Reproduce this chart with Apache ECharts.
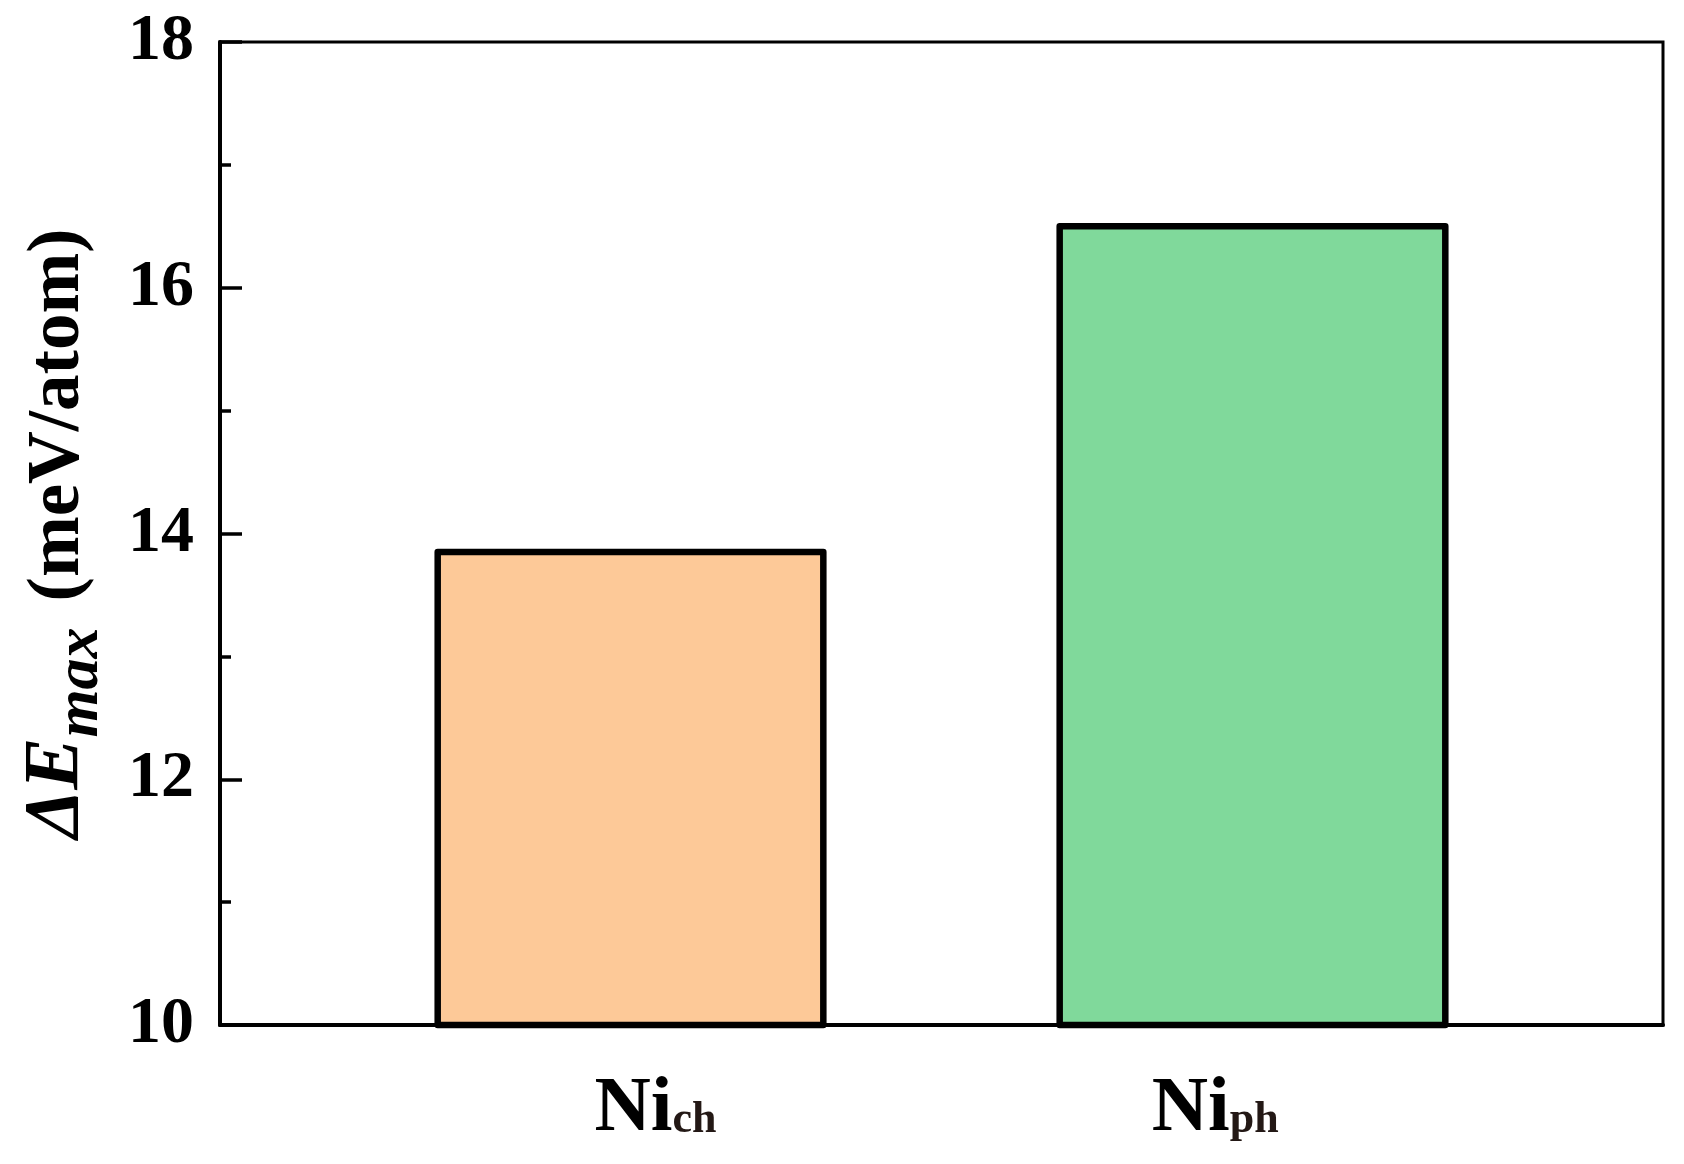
<!DOCTYPE html>
<html>
<head>
<meta charset="utf-8">
<title>ΔEmax bar chart</title>
<script src="https://cdn.jsdelivr.net/npm/echarts@6/dist/echarts.min.js"></script>
<style>
  html, body { margin: 0; padding: 0; background: #fff; }
  #main { width: 1684px; height: 1164px; }
</style>
</head>
<body>
<div id="main"></div>
<script>
// data
var categories = ['ch', 'ph'];          // subscripts of Ni
var positions = [1, 2];                 // bar centres on the x scale
var labelPositions = [1.04, 1.94];      // where the category labels sit
var values = [13.85, 16.5];             // ΔEmax, meV/atom
var yTicks = [10, 12, 14, 16, 18];

var barColors = ['#FDC998', '#80D99B'];
var fontFamily = '"Liberation Serif", "Times New Roman", serif';

var chartDom = document.getElementById('main');
var myChart = echarts.init(chartDom);
var option;

var seriesData = positions.map(function (p, i) {
  return [p, values[i]];
});

option = {
  backgroundColor: '#fff',
  animation: false,
  grid: {
    left: 220,
    right: 21,
    top: 42,
    bottom: 139,
    show: true,
    borderColor: '#000',
    borderWidth: 3
  },
  xAxis: {
    type: 'value',
    min: 0.34,
    max: 2.66,
    axisLine: { show: true, onZero: false, lineStyle: { color: '#000', width: 4 } },
    axisTick: { show: false },
    splitLine: { show: false },
    axisLabel: {
      customValues: labelPositions,
      margin: 46,
      formatter: function (v) {
        var i = labelPositions.indexOf(v);
        if (i < 0) return '';
        return '{n|Ni}{s|' + categories[i] + '}';
      },
      rich: {
        n: {
          fontFamily: fontFamily, fontWeight: 'bold', fontSize: 78,
          color: '#000', verticalAlign: 'bottom', lineHeight: 78
        },
        s: {
          fontFamily: fontFamily, fontWeight: 'bold', fontSize: 44,
          color: '#231815', verticalAlign: 'bottom', lineHeight: 44,
          padding: [0, 0, 6, 0]
        }
      }
    }
  },
  yAxis: {
    type: 'value',
    min: yTicks[0],
    max: yTicks[yTicks.length - 1],
    interval: 2,
    name: '{d|ΔE}{m|max}{u|(meV/atom)}',
    nameLocation: 'middle',
    nameGap: 124,
    nameTextStyle: {
      rich: {
        d: {
          fontFamily: fontFamily, fontWeight: 'bold', fontStyle: 'italic',
          fontSize: 78, color: '#000', verticalAlign: 'bottom', lineHeight: 78
        },
        m: {
          fontFamily: fontFamily, fontWeight: 'bold', fontStyle: 'italic',
          fontSize: 62, color: '#000', verticalAlign: 'bottom', lineHeight: 62,
          padding: [0, 0, -16, 0]
        },
        u: {
          fontFamily: fontFamily, fontWeight: 'bold',
          fontSize: 73, color: '#000', verticalAlign: 'bottom', lineHeight: 78,
          padding: [0, 0, 0, 26]
        }
      }
    },
    axisLine: { show: true, lineStyle: { color: '#000', width: 4 } },
    axisTick: { show: true, inside: true, length: 22, lineStyle: { color: '#000', width: 3.5 } },
    minorTick: { show: true, splitNumber: 2, length: 11, lineStyle: { color: '#000', width: 3.5 } },
    splitLine: { show: false },
    axisLabel: {
      margin: 26,
      fontFamily: fontFamily,
      fontWeight: 'bold',
      fontSize: 66,
      color: '#000'
    }
  },
  series: [
    {
      type: 'custom',
      data: seriesData,
      clip: false,
      renderItem: function (params, api) {
        var x = api.value(0);
        var v = api.value(1);
        var halfWidth = 0.31;
        var p0 = api.coord([x - halfWidth, yTicks[0]]);
        var p1 = api.coord([x + halfWidth, v]);
        return {
          type: 'rect',
          shape: { x: p0[0], y: p1[1], width: p1[0] - p0[0], height: p0[1] - p1[1] },
          style: {
            fill: barColors[params.dataIndex],
            stroke: '#000',
            lineWidth: 6.5,
            lineJoin: 'round'
          }
        };
      }
    }
  ]
};

option && myChart.setOption(option);
</script>
</body>
</html>
